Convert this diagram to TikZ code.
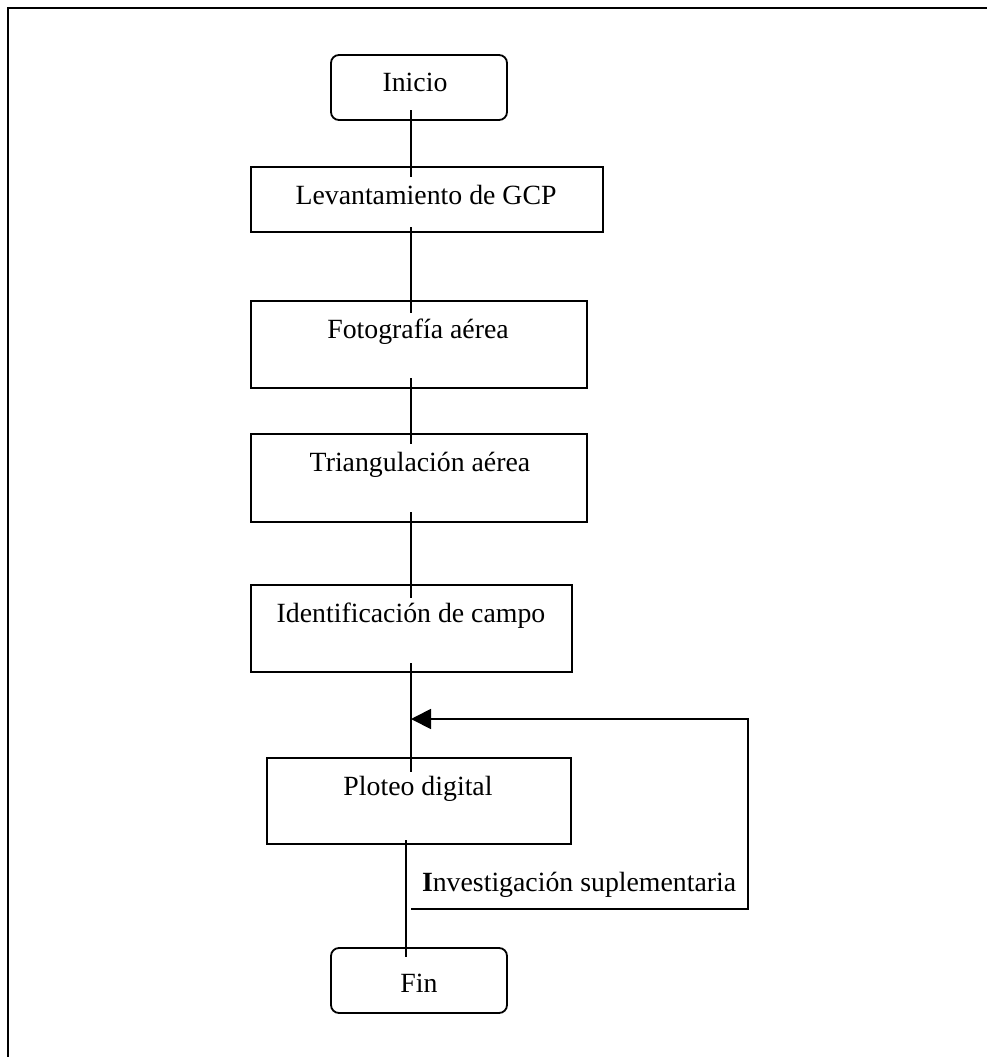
\documentclass[tikz,border=0pt]{standalone}
\usepackage{fontspec}
\setmainfont{Liberation Serif}
\usetikzlibrary{arrows.meta,calc}
\begin{document}
\begin{tikzpicture}[x=1pt,y=-1pt,
  every node/.style={inner sep=0pt,outer sep=0pt},
  box/.style={draw,line width=1.8pt,rectangle},
  term/.style={draw,line width=1.8pt,rectangle,rounded corners=8pt},
  lbl/.style={anchor=base,font=\fontsize{27.8}{33}\selectfont},
  conn/.style={line width=1.8pt},
  frame/.style={line width=1.8pt}]
\useasboundingbox (0,0) rectangle (987,1057);
% frame (cropped at right and bottom)
\coordinate (fr1) at (8,1057);
\coordinate (fr2) at (8,8);
\coordinate (fr3) at (987,8);
\draw[frame] (fr1) -- (fr2) -- (fr3);
% boxes
\node[term,minimum width=176pt,minimum height=65pt] (ini) at (419,87.5) {};
\node[box,minimum width=352pt,minimum height=65pt] (lev) at (427,199.5) {};
\node[box,minimum width=336pt,minimum height=87pt] (foto) at (419,344.5) {};
\node[box,minimum width=336pt,minimum height=88pt] (tri) at (419,478) {};
\node[box,minimum width=321pt,minimum height=87pt] (ide) at (411.5,628.5) {};
\node[box,minimum width=304pt,minimum height=86pt] (plo) at (419,801) {};
\node[term,minimum width=176pt,minimum height=65pt] (fin) at (419,980.5) {};
% texts
\node[lbl] (tini) at (415,92) {Inicio};
\node[lbl] (tlev) at (426,204) {Levantamiento de GCP};
\node[lbl] (tfoto) at (418,338) {Fotografía aérea};
\node[lbl] (ttri) at (420,471) {Triangulación aérea};
\node[lbl] (tide) at (411,622) {Identificación de campo};
\node[lbl] (tplo) at (418,795) {Ploteo digital};
\node[lbl] (tfin) at (419,992) {Fin};
% spine x positions
\coordinate (sp) at (411,0);
\coordinate (sp2) at (406,0);
% connectors
\draw[conn] ([yshift=10pt]ini.south -| sp) -- ([yshift=-10pt]lev.north -| sp);
\draw[conn] ([yshift=5pt]lev.south -| sp) -- ([yshift=-12pt]foto.north -| sp);
\draw[conn] ([yshift=10pt]foto.south -| sp) -- ([yshift=-10pt]tri.north -| sp);
\draw[conn] ([yshift=10pt]tri.south -| sp) -- ([yshift=-13pt]ide.north -| sp);
\draw[conn] ([yshift=9pt]ide.south -| sp) -- ([yshift=-14pt]plo.north -| sp);
\draw[conn] ([yshift=4pt]plo.south -| sp2) -- ([yshift=-9pt]fin.north -| sp2);
% feedback loop
\coordinate (fbstart) at (411,909);
\coordinate (fbc1) at (748,909);
\coordinate (fbc2) at (748,719);
\coordinate (fbend) at (411,719);
\draw[conn,-{Triangle[length=20pt,width=20pt]}] (fbstart) -- (fbc1) -- (fbc2) -- (fbend);
\node[anchor=base west,font=\fontsize{27.8}{33}\selectfont] (inv) at (422,891) {\textbf{I}nvestigación suplementaria};
\end{tikzpicture}
\end{document}
